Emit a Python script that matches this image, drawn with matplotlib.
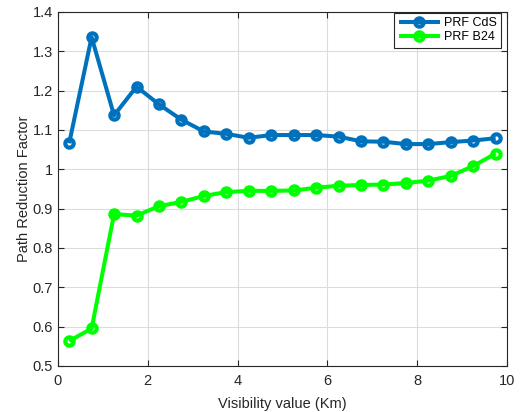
import numpy as np
import matplotlib.pyplot as plt

plt.rcParams['font.family'] = ['Liberation Sans', 'DejaVu Sans']

# 能见度 (km)
visibility = [0.25, 0.75, 1.25, 1.75, 2.25, 2.75, 3.25, 3.75, 4.25, 4.75,
              5.25, 5.75, 6.25, 6.75, 7.25, 7.75, 8.25, 8.75, 9.25, 9.75]

# 路径衰减因子
prf_cds = [1.066, 1.336, 1.137, 1.210, 1.165, 1.126, 1.096, 1.090, 1.080, 1.087,
           1.087, 1.087, 1.083, 1.071, 1.070, 1.064, 1.064, 1.069, 1.073, 1.079]
prf_b24 = [0.563, 0.595, 0.886, 0.882, 0.906, 0.917, 0.932, 0.942, 0.945, 0.945,
           0.946, 0.953, 0.958, 0.960, 0.961, 0.965, 0.971, 0.983, 1.008, 1.040]

xticks = [0, 2, 4, 6, 8, 10]
yticks = [0.5, 0.6, 0.7, 0.8, 0.9, 1.0, 1.1, 1.2, 1.3, 1.4]
ytick_labels = ['0.5', '0.6', '0.7', '0.8', '0.9', '1', '1.1', '1.2', '1.3', '1.4']

axis_color = '#262626'

fig = plt.figure(figsize=(5.22, 4.12), dpi=100)
ax = fig.add_axes([0.111, 0.112, 0.86, 0.859])

ax.plot(visibility, prf_cds, '-o', color='#0072BD', linewidth=2.9,
        markersize=6, markerfacecolor='none', markeredgewidth=3,
        solid_capstyle='butt', label='PRF CdS')
ax.plot(visibility, prf_b24, '-o', color='#00FF00', linewidth=2.9,
        markersize=6, markerfacecolor='none', markeredgewidth=3,
        solid_capstyle='butt', label='PRF B24')

ax.set_xlim(0, 10)
ax.set_ylim(0.5, 1.4)
ax.set_xticks(xticks)
ax.set_yticks(yticks)
ax.set_yticklabels(ytick_labels)

ax.grid(True, color='#dcdcdc', linewidth=0.8)
ax.set_axisbelow(True)
ax.tick_params(direction='in', top=True, right=True, colors=axis_color,
               labelsize=10.5, length=4, width=0.8)
ax.tick_params(axis='x', pad=6)
for s in ax.spines.values():
    s.set_color(axis_color)
    s.set_linewidth(0.8)

ax.set_xlabel('Visibility value (Km)', fontsize=10.5, color=axis_color,
              labelpad=6)
ax.set_ylabel('Path Reduction Factor', fontsize=10.5, color=axis_color,
              labelpad=1.5)

leg = ax.legend(loc='upper right', bbox_to_anchor=(0.987, 0.997),
                fontsize=9, fancybox=False,
                framealpha=1, edgecolor=axis_color, borderaxespad=0,
                handlelength=3.3, borderpad=0.35, labelspacing=0.15,
                handletextpad=0.3)
leg.get_frame().set_linewidth(0.8)

fig.savefig('out.png', dpi=100)
